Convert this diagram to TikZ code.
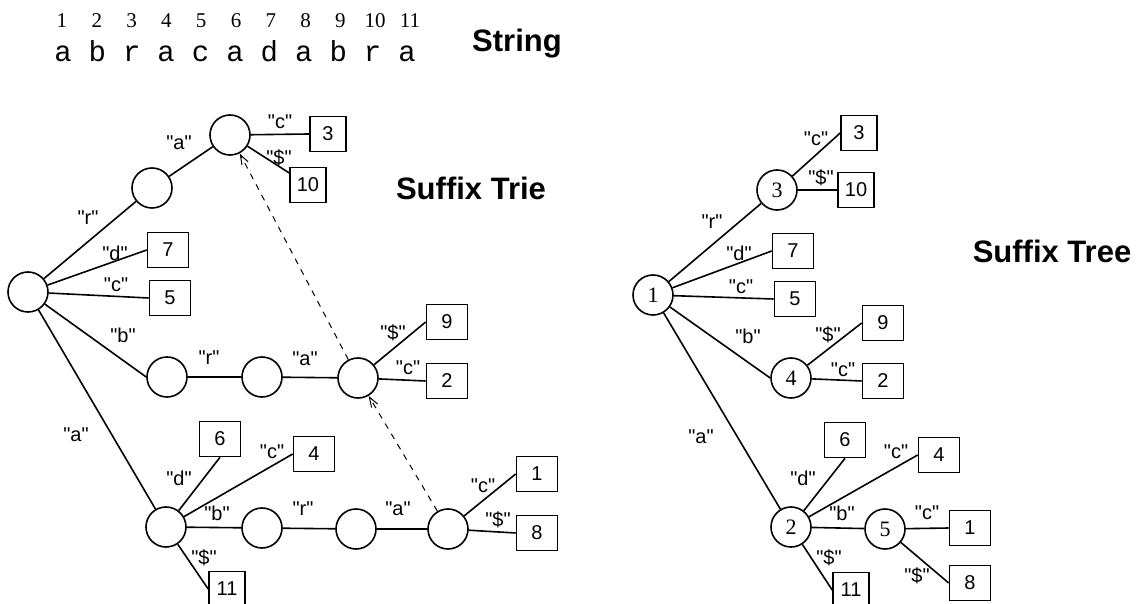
\documentclass[tikz,border=0pt]{standalone}
\usepackage{fontspec}
\setmainfont{Liberation Sans}[Ligatures=TeXOff]
\newfontfamily\serf{Liberation Serif}
\newfontfamily\monof{Liberation Mono}
\usetikzlibrary{arrows.meta}
\begin{document}
\begin{tikzpicture}[x=0.5pt,y=-0.5pt,
  lbl/.style={font=\fontsize{10}{12}\selectfont, inner sep=0},
  st/.style={circle, draw, line width=0.8pt, minimum size=20pt, inner sep=0},
  tst/.style={st, font=\serf\fontsize{11}{13}\selectfont},
  bx/.style={draw, line width=0.8pt, minimum width=20.5pt, minimum height=17.5pt, inner sep=0, font=\fontsize{10}{12}\selectfont},
  nbx/.style={bx, minimum width=18pt},
  edge/.style={line width=0.8pt},
  link/.style={line width=0.5pt, dash pattern=on 3pt off 3pt, -{Straight Barb[length=5pt,width=3.5pt]}},
  title/.style={font=\bfseries\fontsize{15.5}{18}\selectfont, anchor=base, inner sep=0},
  numtxt/.style={font=\serf\fontsize{10.5}{12}\selectfont, anchor=base, inner sep=0},
  chtxt/.style={font=\monof\fontsize{14.5}{16}\selectfont, anchor=base, inner sep=0}
]
\clip (0,0) rectangle (1142,604);
\fill[white] (0,0) rectangle (1142,604);

% ---------- String ----------
\foreach \i/\ch in {1/a,2/b,3/r,4/a,5/c,6/a,7/d,8/a,9/b,10/r,11/a} {
  \node[numtxt] (num\i) at ({62+34.8*(\i-1)},28) {\i};
  \node[chtxt] (ch\i) at ({63+34.4*(\i-1)},62) {\ch};
}
\node[title] (tstring) at (517,52) {String};

% ---------- Suffix Trie ----------
\node[title] (ttrie) at (471,200) {Suffix Trie};
\node[st] (root) at (28,292) {};
\node[st] (r) at (152,188) {};
\node[st] (ra) at (230,135) {};
\node[st] (b) at (167,377) {};
\node[st] (br) at (262,377) {};
\node[st] (bra) at (358,378) {};
\node[st] (a) at (166,527) {};
\node[st] (ab) at (262,528) {};
\node[st] (abr) at (356,529) {};
\node[st] (abra) at (448,529) {};

\node[nbx] (t3) at (328,134) {3};
\node[nbx] (t10) at (308,185) {10};
\node[bx] (t7) at (168,250) {7};
\node[bx] (t5) at (170,298) {5};
\node[bx] (t9) at (447,322) {9};
\node[bx] (t2) at (447,381) {2};
\node[bx] (t6) at (220,439) {6};
\node[bx] (t4) at (314,454) {4};
\node[bx] (t1) at (537,474) {1};
\node[bx] (t8) at (537,533) {8};
\node[nbx] (t11) at (227,589) {11};

\draw[edge] (root) -- (r);
\draw[edge] (r) -- (ra);
\draw[edge] (ra) -- (t3.west);
\draw[edge] (ra) -- (t10);
\draw[edge] (root) -- (t7.west);
\draw[edge] (root) -- (t5.west);
\draw[edge] (root) -- (b.west);
\draw[edge] (b) -- (br);
\draw[edge] (br) -- (bra);
\draw[edge] (bra) -- (t9.west);
\draw[edge] (bra) -- (t2.west);
\draw[edge] (root) -- (a);
\draw[edge] (a) -- (t6.south);
\draw[edge] (a) -- (t4.west);
\draw[edge] (a) -- (ab);
\draw[edge] (ab) -- (abr);
\draw[edge] (abr) -- (abra);
\draw[edge] (abra) -- (t1.west);
\draw[edge] (abra) -- (t8.west);
\draw[edge] (a) -- (t11.west);
\draw[link] (abra) -- (bra);
\draw[link] (bra) -- (ra);

\node[lbl] (l1) at (88,218) {"r"};
\node[lbl] (l2) at (179,143) {"a"};
\node[lbl] (l3) at (280,122) {"c"};
\node[lbl] (l4) at (279,158) {"\$"};
\node[lbl] (l5) at (115,253) {"d"};
\node[lbl] (l6) at (116,285) {"c"};
\node[lbl] (l7) at (123,335) {"b"};
\node[lbl] (l8) at (209,358) {"r"};
\node[lbl] (l9) at (305,359) {"a"};
\node[lbl] (l10) at (393,333) {"\$"};
\node[lbl] (l11) at (408,368) {"c"};
\node[lbl] (l12) at (76,435) {"a"};
\node[lbl] (l13) at (179,478) {"d"};
\node[lbl] (l14) at (272,452) {"c"};
\node[lbl] (l15) at (217,513) {"b"};
\node[lbl] (l16) at (303,509) {"r"};
\node[lbl] (l17) at (398,509) {"a"};
\node[lbl] (l18) at (483,486) {"c"};
\node[lbl] (l19) at (498,520) {"\$"};
\node[lbl] (l20) at (204,558) {"\$"};

% ---------- Suffix Tree ----------
\node[title] (ttree) at (1052,263) {Suffix Tree};
\node[tst] (n1) at (653,295) {1};
\node[tst] (n3) at (777,190) {3};
\node[tst] (n4) at (791,378) {4};
\node[tst] (n2) at (791,527) {2};
\node[tst] (n5) at (885,529) {5};

\node[nbx] (s3) at (859,133) {3};
\node[nbx] (s10) at (856,190) {10};
\node[bx] (s7) at (793,251) {7};
\node[bx] (s5) at (795,299) {5};
\node[bx] (s9) at (883,323) {9};
\node[bx] (s2) at (883,381) {2};
\node[bx] (s6) at (845,440) {6};
\node[bx] (s4) at (939,455) {4};
\node[nbx] (s11) at (851,590) {11};
\node[bx] (s1) at (970,528) {1};
\node[bx] (s8) at (970,583) {8};

\draw[edge] (n1) -- (n3);
\draw[edge] (n3) -- (s3.west);
\draw[edge] (n3) -- (s10.west);
\draw[edge] (n1) -- (s7.west);
\draw[edge] (n1) -- (s5.west);
\draw[edge] (n1) -- (n4.west);
\draw[edge] (n4) -- (s9.west);
\draw[edge] (n4) -- (s2.west);
\draw[edge] (n1) -- (n2);
\draw[edge] (n2) -- (s6.south);
\draw[edge] (n2) -- (s4.west);
\draw[edge] (n2) -- (n5);
\draw[edge] (n2) -- (s11.west);
\draw[edge] (n5) -- (s1.west);
\draw[edge] (n5) -- (s8.west);

\node[lbl] (m1) at (816,139) {"c"};
\node[lbl] (m2) at (821,178) {"\$"};
\node[lbl] (m3) at (712,222) {"r"};
\node[lbl] (m4) at (739,253) {"d"};
\node[lbl] (m5) at (741,287) {"c"};
\node[lbl] (m6) at (748,336) {"b"};
\node[lbl] (m7) at (828,335) {"\$"};
\node[lbl] (m8) at (843,370) {"c"};
\node[lbl] (m9) at (701,437) {"a"};
\node[lbl] (m10) at (803,478) {"d"};
\node[lbl] (m11) at (896,452) {"c"};
\node[lbl] (m12) at (842,513) {"b"};
\node[lbl] (m13) at (829,558) {"\$"};
\node[lbl] (m14) at (927,513) {"c"};
\node[lbl] (m15) at (917,576) {"\$"};
\end{tikzpicture}
\end{document}
